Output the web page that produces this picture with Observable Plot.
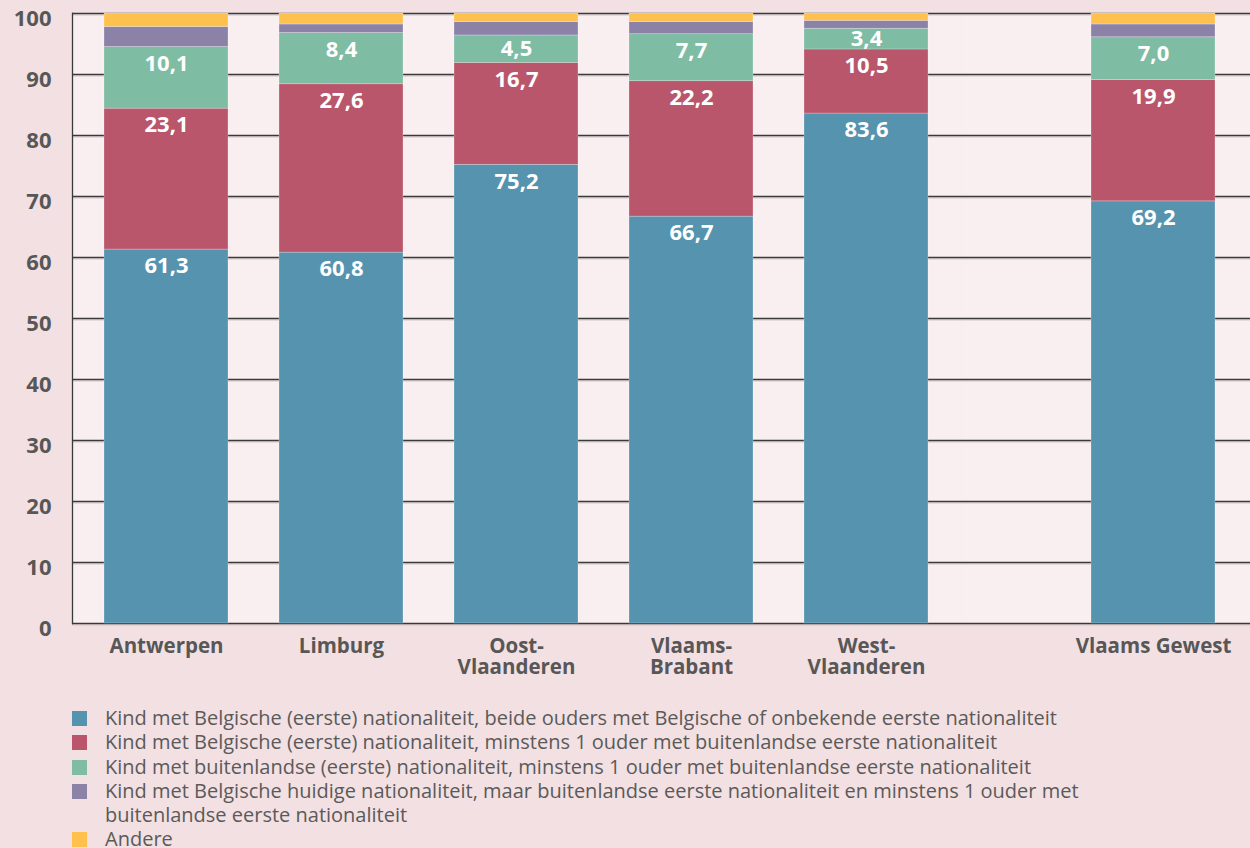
<!DOCTYPE html>
<html>
<head>
<meta charset="utf-8">
<script src="https://cdn.jsdelivr.net/npm/d3@7"></script>
<script src="https://cdn.jsdelivr.net/npm/@observablehq/plot@0.6"></script>
<style>
  html, body { margin: 0; padding: 0; background: #f3e0e2; }
  body { width: 1250px; height: 848px; overflow: hidden; font-family: "Open Sans", sans-serif; }
  #chart { display: flex; width: 1250px; height: 690px; }
  #chart svg { display: block; }
  #legend { margin-top: 16px; margin-left: 72px; width: 1048px; color: #5a5a5a; font-size: 20px; line-height: 24.3px; }
  .item { display: flex; align-items: flex-start; }
  .sw { width: 15px; height: 15px; flex: 0 0 15px; margin-top: 5px; margin-right: 18px; }
</style>
</head>
<body>
<div id="chart"></div>
<div id="legend"></div>
<script>
// ---- data ----
const regions = ["Antwerpen", "Limburg", "Oost-\nVlaanderen", "Vlaams-\nBrabant", "West-\nVlaanderen"];
const totalRegion = ["Vlaams Gewest"];
const series = [
  "Kind met Belgische (eerste) nationaliteit, beide ouders met Belgische of onbekende eerste nationaliteit",
  "Kind met Belgische (eerste) nationaliteit, minstens 1 ouder met buitenlandse eerste nationaliteit",
  "Kind met buitenlandse (eerste) nationaliteit, minstens 1 ouder met buitenlandse eerste nationaliteit",
  "Kind met Belgische huidige nationaliteit, maar buitenlandse eerste nationaliteit en minstens 1 ouder met buitenlandse eerste nationaliteit",
  "Andere"
];
// values per category: Antwerpen, Limburg, Oost-Vl., Vl.-Brabant, West-Vl., Vlaams Gewest
const belgBoth    = [61.3, 60.8, 75.2, 66.7, 83.6, 69.2];
const belgOne     = [23.1, 27.6, 16.7, 22.2, 10.5, 19.9];
const foreignOne  = [10.1,  8.4,  4.5,  7.7,  3.4,  7.0];
const naturalised = [ 3.3,  1.4,  2.2,  2.0,  1.3,  2.1];
const other       = [ 2.2,  1.8,  1.4,  1.4,  1.2,  1.8];
const labelled    = [true, true, true, false, false];
const colors = ["#5693ae", "#b9566b", "#7fbca4", "#8c82a8", "#ffc14e"];
const yTicks = [0, 10, 20, 30, 40, 50, 60, 70, 80, 90, 100];

// ---- build tables ----
const categories = regions.concat(totalRegion);
const seriesValues = [belgBoth, belgOne, foreignOne, naturalised, other];
const rows = [];
const labels = [];
categories.forEach((cat, i) => {
  let cum = 0;
  seriesValues.forEach((vals, s) => {
    const v = vals[i];
    rows.push({cat, series: series[s], value: v});
    const top = cum + v;
    if (labelled[s]) {
      labels.push({cat, y: top - Math.min(2.75, v / 2), text: v.toFixed(1).replace(".", ",")});
    }
    cum = top;
  });
});

const plotBg = "#f9eff1";
const axisColor = "#575757";

function makePlot(cats, width, marginLeft, xOpts, withYAxis) {
  const inCats = d => cats.includes(d.cat);
  const marks = [
    Plot.frame({fill: plotBg, stroke: null}),
    Plot.ruleY(yTicks, {stroke: "#cfc3c6", strokeWidth: 1, dy: 1.5}),
    Plot.ruleY(yTicks, {stroke: "#3a3a3a", strokeWidth: 1.3}),
    Plot.barY(rows.filter(inCats), {x: "cat", y: "value", fill: "series", stroke: "#ffffff", strokeOpacity: 0.35, strokeWidth: 0.7}),
    Plot.text(labels.filter(inCats), {x: "cat", y: "y", text: "text", fill: "white", fontWeight: "bold", fontSize: 22}),
    Plot.axisX({tickSize: 0, tickPadding: 14, fontWeight: "bold", fontSize: 20.5, fill: axisColor, lineHeight: 1.03})
  ];
  if (withYAxis) {
    marks.push(Plot.axisY({ticks: yTicks, tickSize: 0, tickPadding: 21, fontWeight: "bold", fontSize: 22, fill: axisColor, dy: 5}));
    marks.push(Plot.frame({anchor: "left", stroke: "#3a3a3a", strokeWidth: 1.3}));
  }
  return Plot.plot({
    width, height: 690,
    marginTop: 13, marginBottom: 67, marginLeft, marginRight: 0,
    style: {background: "transparent", fontFamily: "Open Sans, sans-serif", overflow: "visible"},
    x: {domain: cats, label: null, ...xOpts},
    y: {domain: [0, 100], label: null, axis: null},
    color: {domain: series, range: colors},
    marks
  });
}

const chart = document.getElementById("chart");
chart.append(makePlot(regions, 961, 72, {paddingInner: 0.289, paddingOuter: 0.178}, true));
chart.append(makePlot(totalRegion, 289, 0, {paddingInner: 0.289, paddingOuter: 0.468, align: 0.791}, false));

// ---- legend ----
const legend = document.getElementById("legend");
series.forEach((s, i) => {
  const item = document.createElement("div");
  item.className = "item";
  const sw = document.createElement("span");
  sw.className = "sw";
  sw.style.background = colors[i];
  const tx = document.createElement("span");
  tx.textContent = s;
  item.append(sw, tx);
  legend.append(item);
});
</script>
</body>
</html>
